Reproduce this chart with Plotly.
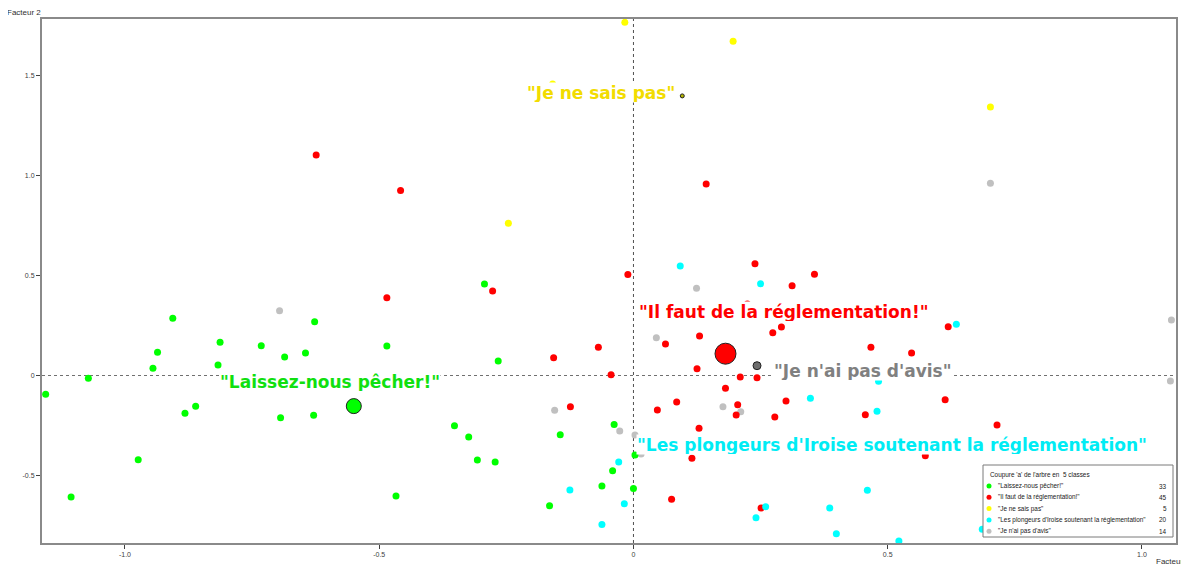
import plotly.graph_objects as go

# ---------------- data ----------------
classes = ['"Laissez-nous pêcher!"', '"Il faut de la réglementation!"', '"Je ne sais pas"',
           '"Les plongeurs d\'Iroise soutenant la réglementation"', '"Je n\'ai pas d\'avis"']
class_counts = [33, 45, 5, 20, 14]
point_colors = ["#00ff00", "#ff0000", "#ffff00", "#00ffff", "#c0c0c0"]
label_colors = ["#10e010", "#ff0000", "#f2dc00", "#00ecf4", "#808080"]

green_x = [-1.156, -1.106, -1.072, -0.974, -0.945, -0.936, -0.906, -0.882, -0.861, -0.817, -0.813,
           -0.732, -0.686, -0.694, -0.645, -0.627, -0.629, -0.485, -0.467, -0.293, -0.266, -0.352,
           -0.324, -0.307, -0.272, -0.144, -0.165, -0.062, -0.041, -0.038, 0.000, 0.003]
green_y = [-0.094, -0.608, -0.014, -0.421, 0.036, 0.116, 0.286, -0.189, -0.154, 0.053, 0.166,
           0.149, 0.093, -0.211, 0.113, 0.269, -0.199, 0.148, -0.603, 0.458, 0.073, -0.251,
           -0.308, -0.423, -0.433, -0.296, -0.651, -0.553, -0.476, -0.245, -0.565, -0.398]

red_x = [-0.624, -0.458, -0.485, -0.277, -0.011, 0.143, 0.239, 0.312, 0.356, 0.291, 0.274, 0.619,
         0.063, 0.130, 0.467, 0.547, -0.069, -0.157, -0.044, 0.125, 0.210, 0.243, 0.181, 0.300,
         0.613, 0.085, 0.047, -0.124, 0.205, 0.202, 0.278, 0.456, 0.715, 0.129, 0.115, 0.574,
         0.075, 0.251, 0.224]
red_y = [1.103, 0.925, 0.389, 0.423, 0.505, 0.958, 0.559, 0.449, 0.506, 0.243, 0.214, 0.244,
         0.158, 0.198, 0.141, 0.113, 0.141, 0.089, 0.004, 0.034, -0.008, -0.011, -0.064, -0.128,
         -0.121, -0.133, -0.173, -0.156, -0.146, -0.198, -0.208, -0.196, -0.248, -0.264, -0.414,
         -0.401, -0.619, -0.663, 0.357]

yellow_x = [-0.017, 0.196, 0.702, -0.246, -0.159]
yellow_y = [1.766, 1.671, 1.343, 0.761, 1.457]

cyan_x = [0.092, 0.250, 0.635, 0.482, 0.348, 0.479, -0.029, -0.125, -0.018, -0.062, 0.460,
          0.260, 0.241, 0.386, 0.399, 0.522, 0.686]
cyan_y = [0.548, 0.459, 0.256, -0.029, -0.114, -0.179, -0.433, -0.573, -0.641, -0.745, -0.574,
          -0.656, -0.711, -0.663, -0.791, -0.828, -0.769]

gray_x = [-0.696, 0.702, 0.124, 0.045, -0.155, -0.027, 0.003, 0.015, 0.176, 0.211, 1.058, 1.056]
gray_y = [0.324, 0.961, 0.436, 0.189, -0.174, -0.278, -0.298, -0.393, -0.156, -0.181, 0.278, -0.028]

# class centres (cyan one is hidden under its label)
centre_x = [-0.550, 0.181, 0.096, 0.243]
centre_y = [-0.153, 0.109, 1.398, 0.049]
centre_fill = ["#00ff00", "#ff0000", "#b4b400", "#6e6e6e"]
centre_size = [15, 21, 4, 8]

# class label positions (data units)
label_x = [-0.596, 0.297, -0.064, 0.509, 0.451]
label_y = [-0.029, 0.320, 1.413, -0.345, 0.025]

x_ticks = [-1.0, -0.5, 0.0, 0.5, 1.0]
x_ticktext = ["-1.0", "-0.5", "0", "0.5", "1.0"]
y_ticks = [-0.5, 0.0, 0.5, 1.0, 1.5]
y_ticktext = ["-0.5", "0", "0.5", "1.0", "1.5"]

# ---------------- figure ----------------
OFF = 8                      # page body margin
W, H = 1181, 556
ML, MR, MT, MB = 34, 13, 11, 21

fig = go.Figure()
series = [(green_x, green_y), (red_x, red_y), (yellow_x, yellow_y), (cyan_x, cyan_y), (gray_x, gray_y)]
draw_order = [4, 0, 1, 2, 3]
for i in draw_order:
    xs, ys = series[i]
    fig.add_trace(go.Scatter(x=xs, y=ys, mode="markers",
                             marker=dict(size=7, color=point_colors[i], opacity=1, line=dict(width=0)),
                             hoverinfo="skip", showlegend=False))
fig.add_trace(go.Scatter(x=centre_x, y=centre_y, mode="markers",
                         marker=dict(size=centre_size, color=centre_fill, opacity=1,
                                     line=dict(width=1, color="#202020")),
                         hoverinfo="skip", showlegend=False))

shapes = [
    dict(type="line", xref="x", yref="paper", x0=0, x1=0, y0=0, y1=1,
         line=dict(color="#505050", width=1, dash="dot"), layer="below"),
    dict(type="line", xref="paper", yref="y", x0=0, x1=1, y0=0, y1=0,
         line=dict(color="#707070", width=1, dash="dot"), layer="below"),
]

annotations = []
for i in range(len(classes)):
    annotations.append(dict(x=label_x[i], y=label_y[i], xref="x", yref="y",
                            text=classes[i], showarrow=False, bgcolor="white",
                            font=dict(family="DejaVu Sans", size=17, color=label_colors[i],
                                      weight="bold"),
                            height=19, valign="middle",
                            xanchor="center", yanchor="middle", borderpad=0))

# screen pixel -> paper helpers
pw, ph = W - ML - MR, H - MT - MB
def px(X):
    return (X - OFF - ML) / pw
def py(Y):
    return (H - MB - (Y - OFF)) / ph

small = dict(family="Liberation Sans", size=8, color="#303030")
annotations.append(dict(x=px(5), y=py(12), xref="paper", yref="paper", text="Facteur 2",
                        showarrow=False, xanchor="left", yanchor="middle", font=small))
annotations.append(dict(x=px(1154), y=py(561), xref="paper", yref="paper", text="Facteur 1",
                        showarrow=False, xanchor="left", yanchor="middle", font=small))

# legend box (custom, compact like the reference)
LX0, LY0, LX1, LY1 = 983, 465, 1173, 537
legfont = dict(family="Liberation Sans", size=6.4, color="#202020")
shapes.append(dict(type="rect", xref="paper", yref="paper", x0=px(LX0), x1=px(LX1),
                   y0=py(LY1), y1=py(LY0), fillcolor="white",
                   line=dict(color="#7a7a7a", width=1), layer="above"))
annotations.append(dict(x=px(LX0 + 5), y=py(LY0 + 10), xref="paper", yref="paper",
                        text="Coupure 'a' de l'arbre en  5 classes", showarrow=False,
                        xanchor="left", yanchor="middle", font=legfont))
row_step = 11.3
for k in range(len(classes)):
    yy = LY0 + 21 + k * row_step
    shapes.append(dict(type="circle", xref="paper", yref="paper", xsizemode="pixel",
                       ysizemode="pixel", xanchor=px(LX0 + 6), yanchor=py(yy),
                       x0=-2.5, x1=2.5, y0=-2.5, y1=2.5,
                       fillcolor=point_colors[k], line=dict(width=0), layer="above"))
    annotations.append(dict(x=px(LX0 + 13), y=py(yy), xref="paper", yref="paper",
                            text=classes[k], showarrow=False, xanchor="left", yanchor="middle",
                            font=legfont))
    annotations.append(dict(x=px(LX1 - 4), y=py(yy), xref="paper", yref="paper",
                            text=str(class_counts[k]), showarrow=False, xanchor="right",
                            yanchor="middle", font=legfont))

axis_common = dict(showgrid=False, zeroline=False, showline=True, mirror=True,
                   linecolor="#8a8a8a", linewidth=2, ticks="outside", ticklen=4,
                   tickcolor="#404040", tickwidth=1, automargin=False,
                   tickfont=dict(family="Liberation Sans", size=7, color="#404040"))

fig.update_layout(
    width=W, height=H,
    margin=dict(l=ML, r=MR, t=MT, b=MB, pad=0, autoexpand=False),
    paper_bgcolor="white", plot_bgcolor="white",
    showlegend=False, hovermode=False,
    xaxis=dict(range=[-1.1632, 1.0670], tickvals=x_ticks, ticktext=x_ticktext, **axis_common),
    yaxis=dict(range=[-0.8375, 1.7825], tickvals=y_ticks, ticktext=y_ticktext, **axis_common),
    shapes=shapes, annotations=annotations,
)

fig.write_html("out.html")
